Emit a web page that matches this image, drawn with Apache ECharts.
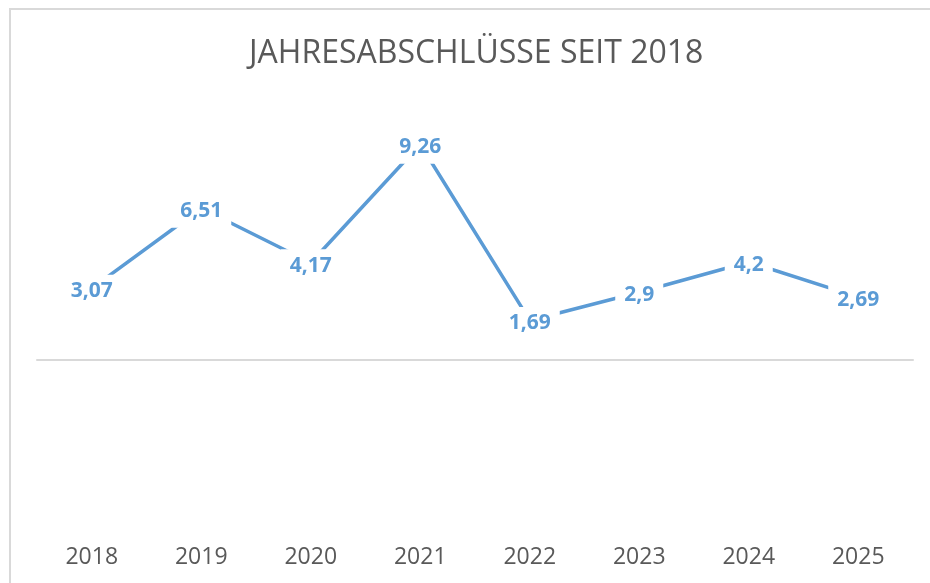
<!DOCTYPE html>
<html>
<head>
<meta charset="utf-8">
<script src="https://cdn.jsdelivr.net/npm/echarts@6/dist/echarts.min.js"></script>
<style>
  html, body { margin: 0; padding: 0; background: #fff; }
  #chart { position: absolute; left: 0; top: 0; width: 930px; height: 583px; }
  #frame { position: absolute; left: 9px; top: 8px; width: 930px; height: 600px;
           border-top: 2px solid #d9d9d9; border-left: 2px solid #d9d9d9; }
</style>
</head>
<body>
<div id="frame"></div>
<div id="chart"></div>
<script>
// Jahre und Werte
var years = ['2018', '2019', '2020', '2021', '2022', '2023', '2024', '2025']
var values = [3.07, 6.51, 4.17, 9.26, 1.69, 2.9, 4.2, 2.69]
var titleText = 'JAHRESABSCHLÜSSE SEIT 2018'

var myChart = echarts.init(document.getElementById('chart'))
var option = {
  backgroundColor: 'transparent',
  animation: false,
  title: {
    text: titleText,
    left: 244,
    top: 33,
    textStyle: {
      fontFamily: 'Open Sans',
      fontSize: 32,
      fontWeight: 'normal',
      color: '#595959'
    }
  },
  grid: {
    left: 37,
    right: 17,
    top: 127,
    bottom: 37
  },
  xAxis: [{
    type: 'category',
    data: years,
    position: 'bottom',
    axisLine: { show: false, onZero: false },
    axisTick: { show: false },
    axisLabel: {
      margin: 0,
      fontFamily: 'Open Sans',
      fontSize: 23,
      color: '#595959'
    }
  }, {
    // Nulllinie
    type: 'category',
    data: years,
    position: 'top',
    axisLine: { show: true, onZero: true, lineStyle: { color: '#d9d9d9', width: 2 } },
    axisTick: { show: false },
    axisLabel: { show: false }
  }],
  yAxis: {
    type: 'value',
    min: -8,
    max: 10,
    show: false,
    splitLine: { show: false }
  },
  series: [{
    type: 'line',
    data: values,
    symbol: 'circle',
    symbolSize: 1,
    showSymbol: true,
    itemStyle: { color: '#5b9bd5' },
    lineStyle: { color: '#5b9bd5', width: 3.5 },
    label: {
      show: true,
      position: 'inside',
      offset: [0, 3],
      fontFamily: 'Open Sans',
      fontSize: 21,
      fontWeight: 'bold',
      color: '#5b9bd5',
      backgroundColor: '#fff',
      padding: [6, 9],
      formatter: function (p) {
        return String(p.value).replace('.', ',')
      }
    }
  }]
}
myChart.setOption(option)
</script>
</body>
</html>
